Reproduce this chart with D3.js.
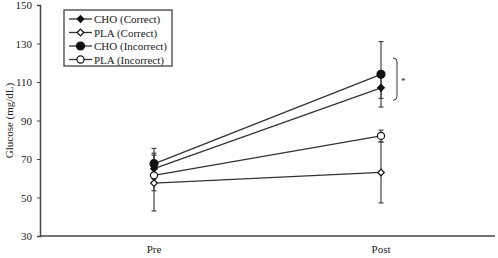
<!DOCTYPE html>
<html>
<head>
<meta charset="utf-8">
<script src="https://cdn.jsdelivr.net/npm/d3@7"></script>
<style>
body { margin: 0; background: #fff; }
text { font-family: "Liberation Serif", "Times New Roman", serif; fill: #222; }
</style>
</head>
<body>
<div id="chart"></div>
<script>
let times = ['Pre', 'Post'];
let seriesNames = ['CHO (Correct)', 'PLA (Correct)', 'CHO (Incorrect)', 'PLA (Incorrect)'];
let choCorrect = [65, 107];
let plaCorrect = [57.5, 63];
let choIncorrect = [67.5, 114];
let plaIncorrect = [61.5, 82];
let choCorrectErr = [8, 5.5];
let plaCorrectErr = [14.5, 15.8];
let choIncorrectErr = [8, 17];
let plaIncorrectErr = [8, 3];
let yTicks = [30, 50, 70, 90, 110, 130, 150];

let width = 498, height = 258;

let svg = d3.select('#chart').append('svg')
    .attr('width', width)
    .attr('height', height);

let xScale = d3.scalePoint()
    .domain(times)
    .range([154, 381]);

let yScale = d3.scaleLinear()
    .domain([30, 150])
    .range([236, 5]);

// axes
svg.append('g')
    .attr('transform', 'translate(40, 0)')
    .call(d3.axisLeft(yScale).tickValues(yTicks).tickSize(3).tickPadding(5))
    .call(g => g.select('.domain').attr('stroke', '#444').attr('stroke-width', 1.5))
    .call(g => g.selectAll('.tick line').attr('stroke', '#444'))
    .call(g => g.selectAll('text').attr('font-size', 11).attr('font-family', 'Liberation Serif').attr('fill', '#222'));

svg.append('line')
    .attr('x1', 40).attr('x2', 495)
    .attr('y1', yScale(30)).attr('y2', yScale(30))
    .attr('stroke', '#444').attr('stroke-width', 1.5);

svg.selectAll('.xlab')
    .data(times)
    .join('text')
    .attr('class', 'xlab')
    .attr('x', d => xScale(d))
    .attr('y', 253)
    .attr('text-anchor', 'middle')
    .attr('font-size', 11)
    .text(d => d);

svg.append('text')
    .attr('transform', `translate(13, ${yScale(90)}) rotate(-90)`)
    .attr('text-anchor', 'middle')
    .attr('font-size', 11)
    .text('Glucose (mg/dL)');

let series = [
    {name: seriesNames[0], values: choCorrect, err: choCorrectErr, shape: 'diamond', fill: '#111', size: 28},
    {name: seriesNames[1], values: plaCorrect, err: plaCorrectErr, shape: 'diamond', fill: '#fff', size: 28},
    {name: seriesNames[2], values: choIncorrect, err: choIncorrectErr, shape: 'circle', fill: '#111', size: 50},
    {name: seriesNames[3], values: plaIncorrect, err: plaIncorrectErr, shape: 'circle', fill: '#fff', size: 40}
];

function symbolPath(s) {
    let type = s.shape === 'diamond' ? d3.symbolDiamond2 : d3.symbolCircle;
    return d3.symbol().type(type).size(s.size)();
}

let line = d3.line()
    .x((d, i) => xScale(times[i]))
    .y(d => yScale(d));

// error bars
series.forEach(s => {
    let g = svg.append('g');
    s.values.forEach((v, i) => {
        let x = xScale(times[i]);
        let lo = yScale(v - s.err[i]), hi = yScale(v + s.err[i]);
        g.append('line').attr('x1', x).attr('x2', x).attr('y1', lo).attr('y2', hi)
            .attr('stroke', '#444').attr('stroke-width', 1.2);
        [lo, hi].forEach(y => {
            g.append('line').attr('x1', x - 2.5).attr('x2', x + 2.5).attr('y1', y).attr('y2', y)
                .attr('stroke', '#444').attr('stroke-width', 1.2);
        });
    });
});

// lines and markers
series.forEach(s => {
    svg.append('path')
        .datum(s.values)
        .attr('d', line)
        .attr('fill', 'none')
        .attr('stroke', '#333')
        .attr('stroke-width', 1.3);
    svg.selectAll(null)
        .data(s.values)
        .join('path')
        .attr('d', symbolPath(s))
        .attr('transform', (d, i) => `translate(${xScale(times[i])}, ${yScale(d)})`)
        .attr('fill', s.fill)
        .attr('stroke', '#111')
        .attr('stroke-width', 1.2);
});

// significance bracket
let bx = 393;
let by1 = yScale(122.5), by2 = yScale(100.5);
svg.append('path')
    .attr('d', `M${bx},${by1} Q${bx + 4},${by1} ${bx + 4},${by1 + 4} L${bx + 4},${by2 - 4} Q${bx + 4},${by2} ${bx},${by2}`)
    .attr('fill', 'none')
    .attr('stroke', '#333')
    .attr('stroke-width', 1);
svg.append('text')
    .attr('x', 401)
    .attr('y', (by1 + by2) / 2 + 5)
    .attr('font-size', 9)
    .text('*');

// legend
let legend = svg.append('g').attr('transform', 'translate(64, 10)');
legend.append('rect')
    .attr('width', 108).attr('height', 56)
    .attr('fill', '#fff')
    .attr('stroke', '#333')
    .attr('stroke-width', 1.2);

let item = legend.selectAll('.item')
    .data(series)
    .join('g')
    .attr('class', 'item')
    .attr('transform', (d, i) => `translate(0, ${9 + i * 13.5})`);

item.append('line')
    .attr('x1', 5).attr('x2', 28)
    .attr('stroke', '#333').attr('stroke-width', 1.3);
item.append('path')
    .attr('d', d => symbolPath(d))
    .attr('transform', 'translate(16.5, 0)')
    .attr('fill', d => d.fill)
    .attr('stroke', '#111')
    .attr('stroke-width', 1.2);
item.append('text')
    .attr('x', 30)
    .attr('y', 4)
    .attr('font-size', 11)
    .text(d => d.name);
</script>
</body>
</html>
